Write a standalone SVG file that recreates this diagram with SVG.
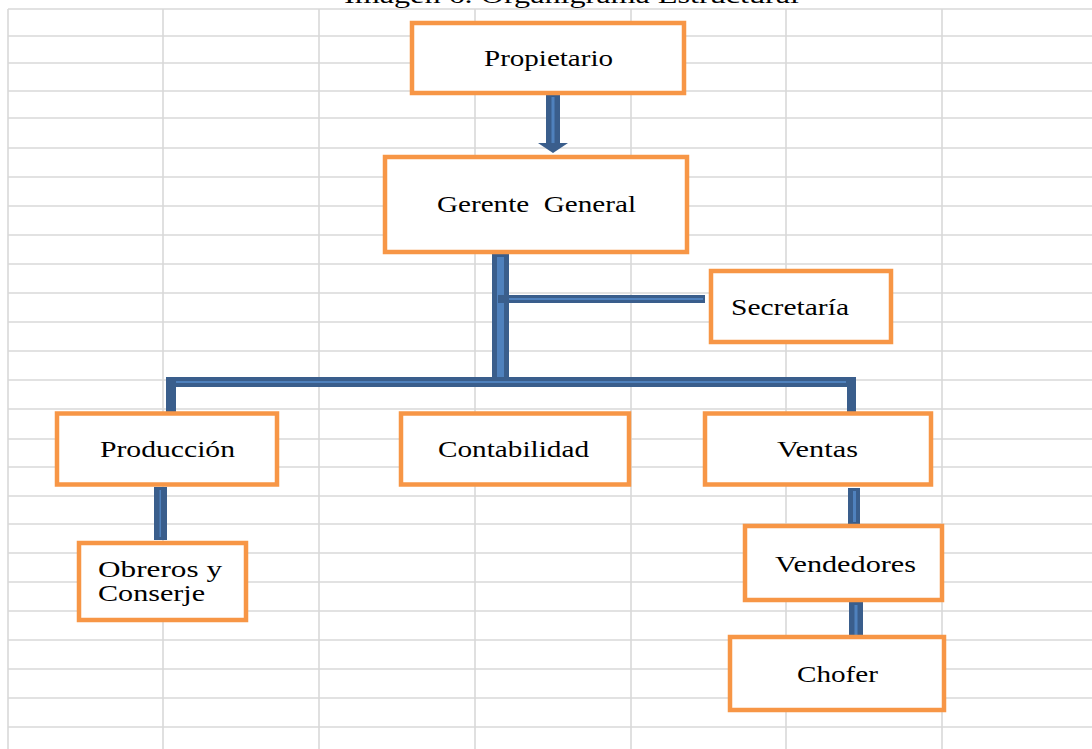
<svg xmlns="http://www.w3.org/2000/svg" width="1092" height="749" viewBox="0 0 1092 749">
<style>
.grid line{stroke:#D9D9D9;stroke-width:1.6}
.box{fill:#FFFFFF;stroke:#F79646;stroke-width:4.5}
.lbl{font-family:"Liberation Serif","Times New Roman",serif;font-size:24px;fill:#000}
.dk{fill:#3A5E8C}
.lt{fill:#4F81BD}
</style>
<rect width="1092" height="749" fill="#FFFFFF"/>
<text class="lbl" x="344" y="2.5" font-size="26" textLength="455" lengthAdjust="spacingAndGlyphs">Imagen 6. Organigrama Estructural</text>
<g id="grid" class="grid">
<line x1="8" y1="9" x2="1092" y2="9"/>
<line x1="8" y1="36" x2="1092" y2="36"/>
<line x1="8" y1="63" x2="1092" y2="63"/>
<line x1="8" y1="91" x2="1092" y2="91"/>
<line x1="8" y1="118" x2="1092" y2="118"/>
<line x1="8" y1="148" x2="1092" y2="148"/>
<line x1="8" y1="177" x2="1092" y2="177"/>
<line x1="8" y1="206" x2="1092" y2="206"/>
<line x1="8" y1="235" x2="1092" y2="235"/>
<line x1="8" y1="264" x2="1092" y2="264"/>
<line x1="8" y1="293" x2="1092" y2="293"/>
<line x1="8" y1="322" x2="1092" y2="322"/>
<line x1="8" y1="351" x2="1092" y2="351"/>
<line x1="8" y1="380" x2="1092" y2="380"/>
<line x1="8" y1="409" x2="1092" y2="409"/>
<line x1="8" y1="439" x2="1092" y2="439"/>
<line x1="8" y1="467" x2="1092" y2="467"/>
<line x1="8" y1="496" x2="1092" y2="496"/>
<line x1="8" y1="524" x2="1092" y2="524"/>
<line x1="8" y1="553" x2="1092" y2="553"/>
<line x1="8" y1="582" x2="1092" y2="582"/>
<line x1="8" y1="611" x2="1092" y2="611"/>
<line x1="8" y1="640" x2="1092" y2="640"/>
<line x1="8" y1="669" x2="1092" y2="669"/>
<line x1="8" y1="698" x2="1092" y2="698"/>
<line x1="8" y1="727" x2="1092" y2="727"/>
<line x1="8" y1="9" x2="8" y2="749"/>
<line x1="163" y1="9" x2="163" y2="749"/>
<line x1="319" y1="9" x2="319" y2="749"/>
<line x1="475" y1="9" x2="475" y2="749"/>
<line x1="631" y1="9" x2="631" y2="749"/>
<line x1="786" y1="9" x2="786" y2="749"/>
<line x1="942" y1="9" x2="942" y2="749"/>
</g>
<g id="connectors">
<polygon class="dk" points="546,95 560,95 560,143 568,143 553,153 538,143 546,143"/>
<rect class="lt" x="551.5" y="97" width="3" height="46"/>
<rect class="dk" x="492" y="254" width="17" height="126"/>
<rect class="lt" x="497" y="257" width="7" height="120"/>
<rect class="dk" x="498" y="295" width="207" height="8"/>
<rect class="lt" x="509" y="298" width="194" height="2"/>
<rect class="dk" x="166" y="377" width="690" height="10"/>
<rect class="lt" x="176" y="381" width="670" height="2"/>
<rect class="dk" x="166" y="377" width="10" height="35"/>
<rect class="dk" x="847" y="377" width="9" height="35"/>
<rect class="dk" x="154" y="487" width="13" height="53"/>
<rect class="lt" x="159.5" y="490" width="1.5" height="47"/>
<rect class="dk" x="848" y="488" width="12" height="37"/>
<rect class="lt" x="853" y="491" width="3" height="31"/>
<rect class="dk" x="849" y="602" width="14" height="36"/>
<rect class="lt" x="854.5" y="605" width="3" height="30"/>
</g>
<g id="node-propietario">
<rect class="box" x="412" y="23" width="272" height="70"/>
<text class="lbl" x="484" y="66" textLength="129" lengthAdjust="spacingAndGlyphs">Propietario</text>
</g>
<g id="node-gerente">
<rect class="box" x="385" y="157" width="302" height="95"/>
<text class="lbl" x="437" y="212" textLength="199" lengthAdjust="spacingAndGlyphs">Gerente&#160; General</text>
</g>
<g id="node-secretaria">
<rect class="box" x="711" y="271" width="180" height="71"/>
<text class="lbl" x="731" y="315" textLength="118" lengthAdjust="spacingAndGlyphs">Secretaría</text>
</g>
<g id="node-produccion">
<rect class="box" x="57" y="413.5" width="220" height="71"/>
<text class="lbl" x="100" y="457" textLength="135" lengthAdjust="spacingAndGlyphs">Producción</text>
</g>
<g id="node-contabilidad">
<rect class="box" x="401" y="413.5" width="228" height="71"/>
<text class="lbl" x="438" y="457" textLength="151" lengthAdjust="spacingAndGlyphs">Contabilidad</text>
</g>
<g id="node-ventas">
<rect class="box" x="705" y="413.5" width="226" height="71"/>
<text class="lbl" x="777" y="457" textLength="81" lengthAdjust="spacingAndGlyphs">Ventas</text>
</g>
<g id="node-obreros">
<rect class="box" x="79" y="543" width="167" height="77"/>
<text class="lbl" x="98" y="577" textLength="124" lengthAdjust="spacingAndGlyphs">Obreros y</text>
<text class="lbl" x="98" y="601" textLength="107" lengthAdjust="spacingAndGlyphs">Conserje</text>
</g>
<g id="node-vendedores">
<rect class="box" x="745" y="526" width="197" height="74"/>
<text class="lbl" x="775" y="572" textLength="141" lengthAdjust="spacingAndGlyphs">Vendedores</text>
</g>
<g id="node-chofer">
<rect class="box" x="730" y="637" width="214" height="73"/>
<text class="lbl" x="797" y="682" textLength="81" lengthAdjust="spacingAndGlyphs">Chofer</text>
</g>
</svg>
